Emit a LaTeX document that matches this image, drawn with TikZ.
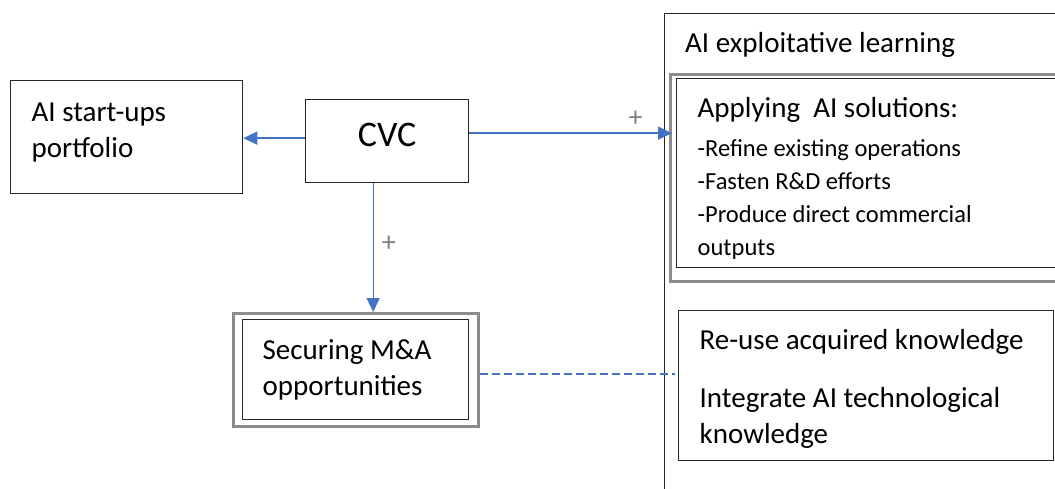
\documentclass[tikz,border=0pt]{standalone}
\usepackage{fontspec}
\setmainfont{Carlito}
\usetikzlibrary{arrows.meta,positioning}

\definecolor{linkblue}{HTML}{4472C4}
\definecolor{framegray}{HTML}{8C8C8C}

% extra space under the last line, to move a text block up or down in its box
\newcommand{\tailgap}[1]{\par\vspace{#1}\nointerlineskip\hbox{}}

\tikzset{
  box/.style={draw=black!85, line width=1.3pt, anchor=north west, inner xsep=21pt, inner ysep=0pt,
    align=flush left, font=\fontsize{29}{36}\selectfont},
  frame/.style={draw=framegray, line width=3pt, anchor=north west, inner sep=0pt},
  link/.style={draw=linkblue, line width=1.3pt, -{Triangle[length=14pt,width=13pt]}},
  plus/.style={text=gray, inner sep=0pt, font=\fontsize{28}{28}\selectfont},
}

\begin{document}
\begin{tikzpicture}[x=1pt,y=-1pt]
\clip (0,0) rectangle (1055,489);

% Exploitative learning container
\node[box, minimum width=420pt, minimum height=500pt] (learning) at (664,13) {};
\node[anchor=west, inner sep=0pt, font=\fontsize{29}{36}\selectfont] (learningtitle) at (685,45) {AI exploitative learning};

% Left side
\node[box, text width=190pt, minimum height=113pt] (portfolio) at (10,80) {AI start-ups\\portfolio\tailgap{10pt}};
\node[box, align=center, inner xsep=0pt, minimum width=163pt, minimum height=83pt, text depth=12pt,
  font=\fontsize{36}{40}\selectfont] (cvc) at (305,99) {CVC};

% Securing M&A
\node[frame, minimum width=245pt, minimum height=113pt] (secframe) at (232,312) {};
\node[box, inner xsep=20pt, text width=186pt, minimum height=100pt] (securing) at (242,319) {Securing M\&A\\opportunities};

% Applying AI solutions
\node[frame, minimum width=400pt, minimum height=207pt] (applyframe) at (669,73) {};
\node[box, text width=346pt, minimum height=189pt] (applying) at (676,78)
  {Applying\ \ AI solutions:\par\vspace{6pt}
   {\fontsize{24.5}{33}\selectfont -Refine existing operations\\-Fasten R\&D efforts\\-Produce direct commercial\\outputs\par}\tailgap{-10pt}};

% Knowledge box
\node[box, text width=333pt, minimum height=150pt] (reuse) at (678,310)
  {Re-use acquired knowledge\\[22pt]Integrate AI technological\\knowledge\tailgap{-6pt}};

% Connections
\draw[link] ([yshift=3pt]cvc.west) -- ([yshift=3pt]cvc.west -| portfolio.east);
\draw[link] ([yshift=8pt]cvc.east) -- ([yshift=8pt,xshift=3pt]cvc.east -| applyframe.west)
  node[plus, pos=0.82, above=6pt] (plusright) {+};
\draw[link] ([xshift=-14pt]cvc.south) -- ([xshift=-14pt]cvc.south |- secframe.north)
  node[plus, pos=0.47, right=8pt] (plusdown) {+};
\draw[linkblue, line width=1.3pt, dash pattern=on 8pt off 4pt]
  ([yshift=-4pt]secframe.east) -- ([yshift=-4pt,xshift=-3pt]secframe.east -| reuse.west);
\end{tikzpicture}
\end{document}
